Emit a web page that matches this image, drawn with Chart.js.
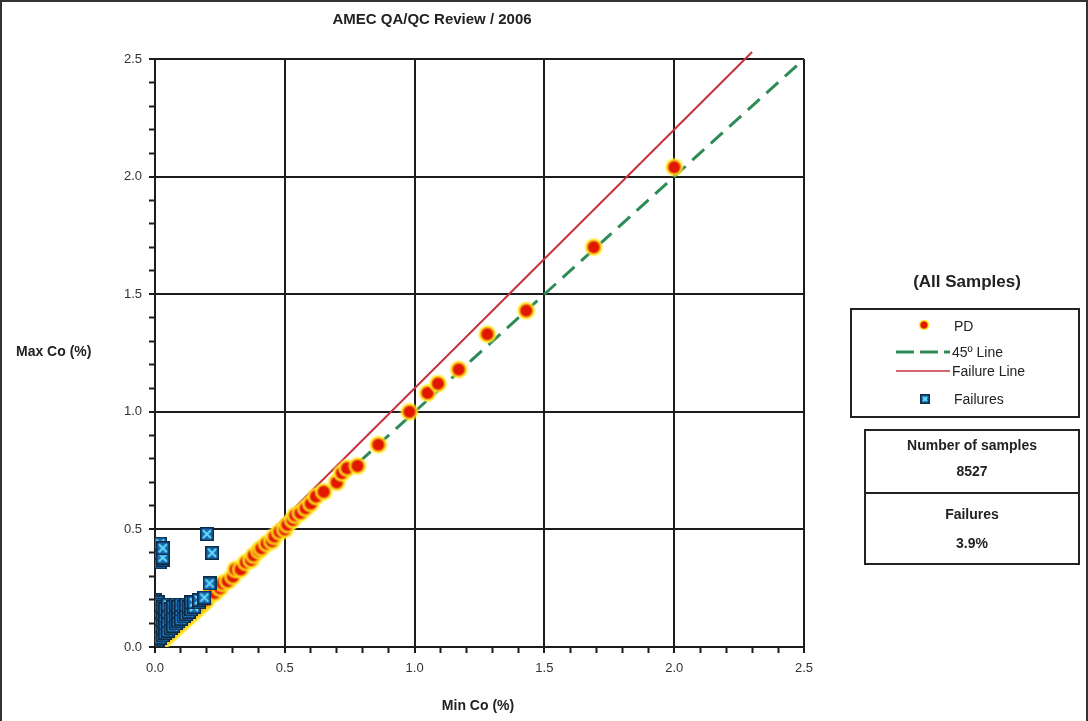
<!DOCTYPE html>
<html>
<head>
<meta charset="utf-8">
<script src="https://cdn.jsdelivr.net/npm/chart.js@4/dist/chart.umd.min.js"></script>
<style>
  html, body { margin: 0; padding: 0; background: #fff; }
  #wrap {
    position: relative; width: 1088px; height: 721px; box-sizing: border-box;
    border: 2px solid #333; border-bottom: none; overflow: hidden;
    font-family: "Liberation Sans", Arial, sans-serif; color: #222;
  }
  #chart { position: absolute; left: -2px; top: -2px; }
  .legTitle { position: absolute; left: 850px; width: 230px; top: 270px; text-align: center; font-weight: bold; font-size: 17px; }
  .legBox { position: absolute; left: 848px; top: 306px; width: 230px; height: 110px; border: 2px solid #222; box-sizing: border-box; }
  .legRow { position: absolute; left: 0; height: 18px; font-size: 14px; line-height: 18px; }
  .legRow span.t { position: absolute; white-space: nowrap; }
  .stats { position: absolute; left: 862px; top: 427px; width: 216px; height: 136px; border: 2px solid #222; box-sizing: border-box; }
  .stats .cell { position: absolute; left: 0; width: 100%; text-align: center; font-size: 14px; font-weight: bold; }
  .stats .sep { position: absolute; left: 0; width: 100%; top: 61px; border-top: 2px solid #222; }
</style>
</head>
<body>
<div id="wrap">
  <canvas id="chart" width="1088" height="721"></canvas>

  <div class="legTitle">(All Samples)</div>
  <div class="legBox">
    <canvas id="legIcons" width="80" height="110" style="position:absolute;left:40px;top:0"></canvas>
    <div class="legRow" style="top:7px"><span class="t" style="left:102px">PD</span></div>
    <div class="legRow" style="top:33px"><span class="t" style="left:100px">45º Line</span></div>
    <div class="legRow" style="top:52px"><span class="t" style="left:100px">Failure Line</span></div>
    <div class="legRow" style="top:80px"><span class="t" style="left:102px">Failures</span></div>
  </div>

  <div class="stats">
    <div class="cell" style="top:6px">Number of samples</div>
    <div class="cell" style="top:32px">8527</div>
    <div class="sep"></div>
    <div class="cell" style="top:75px">Failures</div>
    <div class="cell" style="top:104px">3.9%</div>
  </div>
</div>

<script>
// ── Data: duplicate pairs (min Co %, max Co %) ──
const pdMin = [0.01, 0.02, 0.03, 0.04, 0.05, 0.06, 0.07, 0.08, 0.09, 0.10,
               0.11, 0.12, 0.13, 0.14, 0.15, 0.16, 0.17, 0.18, 0.19, 0.20,
               0.21, 0.23, 0.25, 0.26, 0.28, 0.30, 0.31, 0.33, 0.35, 0.37,
               0.38, 0.40, 0.41, 0.43, 0.45, 0.46, 0.48, 0.50, 0.51, 0.53,
               0.54, 0.56, 0.58, 0.60, 0.62, 0.65, 0.70, 0.72, 0.74, 0.78,
               0.86, 0.98, 1.05, 1.09, 1.17, 1.28, 1.43, 1.69, 2.00];
const pdMax = [0.01, 0.02, 0.03, 0.04, 0.05, 0.06, 0.07, 0.08, 0.09, 0.10,
               0.11, 0.12, 0.13, 0.14, 0.15, 0.16, 0.17, 0.18, 0.19, 0.20,
               0.22, 0.23, 0.25, 0.27, 0.28, 0.30, 0.33, 0.33, 0.36, 0.37,
               0.39, 0.41, 0.42, 0.44, 0.45, 0.47, 0.49, 0.50, 0.52, 0.54,
               0.56, 0.57, 0.59, 0.61, 0.64, 0.66, 0.70, 0.74, 0.76, 0.77,
               0.86, 1.00, 1.08, 1.12, 1.18, 1.33, 1.43, 1.70, 2.04];

const failMin = [0.00, 0.00, 0.00, 0.00, 0.00, 0.00, 0.00,
                 0.01, 0.01, 0.01, 0.01, 0.01, 0.01,
                 0.02, 0.02, 0.02, 0.02, 0.02,
                 0.03, 0.03, 0.03, 0.03, 0.03,
                 0.04, 0.04, 0.04, 0.04,
                 0.05, 0.05, 0.05, 0.05,
                 0.06, 0.06, 0.06, 0.07, 0.07, 0.07,
                 0.08, 0.08, 0.08, 0.09, 0.09, 0.09,
                 0.10, 0.10, 0.10, 0.11, 0.11, 0.12, 0.12,
                 0.13, 0.13, 0.14, 0.14, 0.15, 0.15, 0.17, 0.17, 0.19,
                 0.02, 0.03, 0.02, 0.03, 0.02, 0.03,
                 0.20, 0.22, 0.21];
const failMax = [0.02, 0.05, 0.08, 0.11, 0.14, 0.17, 0.20,
                 0.03, 0.07, 0.10, 0.13, 0.16, 0.19,
                 0.04, 0.09, 0.12, 0.15, 0.18,
                 0.05, 0.08, 0.11, 0.14, 0.17,
                 0.06, 0.10, 0.13, 0.16,
                 0.07, 0.11, 0.15, 0.18,
                 0.08, 0.12, 0.16, 0.09, 0.13, 0.17,
                 0.10, 0.14, 0.18, 0.11, 0.15, 0.17,
                 0.12, 0.16, 0.18, 0.13, 0.17, 0.14, 0.18,
                 0.15, 0.17, 0.16, 0.19, 0.17, 0.19, 0.19, 0.20, 0.21,
                 0.36, 0.37, 0.40, 0.38, 0.44, 0.42,
                 0.48, 0.40, 0.27];

const lineX = [0, 2.5];
const lineY = [0, 2.5];
const failLineX = [0, 2.3];
const failLineY = [0, 2.53];

// ── Marker sprites ──
function pdSprite(size) {
  const c = document.createElement("canvas");
  c.width = c.height = size;
  const g = c.getContext("2d"), r = size / 2;
  const grad = g.createRadialGradient(r, r, 0, r, r, r);
  grad.addColorStop(0.00, "#e01800");
  grad.addColorStop(0.48, "#e01800");
  grad.addColorStop(0.60, "#f07a10");
  grad.addColorStop(0.74, "rgba(255,226,20,0.95)");
  grad.addColorStop(1.00, "rgba(255,240,80,0)");
  g.fillStyle = grad;
  g.beginPath(); g.arc(r, r, r, 0, Math.PI * 2); g.fill();
  return c;
}

function failSprite(size) {
  const c = document.createElement("canvas");
  c.width = c.height = size;
  const g = c.getContext("2d");
  g.fillStyle = "#0c2c46";
  g.fillRect(0, 0, size, size);
  g.fillStyle = "#1c68b2";
  g.fillRect(1.5, 1.5, size - 3, size - 3);
  g.strokeStyle = "#62dcf6";
  g.lineWidth = 2;
  g.beginPath();
  g.moveTo(3, 3); g.lineTo(size - 3, size - 3);
  g.moveTo(size - 3, 3); g.lineTo(3, size - 3);
  g.stroke();
  return c;
}

const pdImg = pdSprite(20);
const failImg = failSprite(14);

// legend icons
(function drawLegendIcons() {
  const g = document.getElementById("legIcons").getContext("2d");
  g.drawImage(pdSprite(12), 26, 9);
  g.strokeStyle = "#2e8b57"; g.lineWidth = 3; g.setLineDash([18, 6]);
  g.beginPath(); g.moveTo(4, 42); g.lineTo(58, 42); g.stroke();
  g.setLineDash([]);
  g.strokeStyle = "#c8323c"; g.lineWidth = 1.5;
  g.beginPath(); g.moveTo(4, 61); g.lineTo(58, 61); g.stroke();
  g.drawImage(failSprite(10), 28, 84);
})();

const toPts = (xs, ys) => xs.map((x, i) => ({ x, y: ys[i] }));
const isMajor = v => Math.abs(v * 2 - Math.round(v * 2)) < 1e-6;

// ── Fixed texts: title and axis names ──
const textPlugin = {
  id: "texts",
  afterDraw(chart) {
    const ctx = chart.ctx;
    ctx.save();
    ctx.fillStyle = "#222";
    ctx.textBaseline = "middle";
    ctx.font = "bold 15px 'Liberation Sans', Arial, sans-serif";
    ctx.textAlign = "center";
    ctx.fillText("AMEC QA/QC Review / 2006", 432, 20);
    ctx.font = "bold 14px 'Liberation Sans', Arial, sans-serif";
    ctx.fillText("Min Co (%)", 478, 706);
    ctx.textAlign = "left";
    ctx.fillText("Max Co (%)", 16, 352);
    ctx.restore();
  }
};

const axisFont = { family: "'Liberation Sans', Arial, sans-serif", size: 13 };

function axis(pad) {
  return {
    type: "linear", min: 0, max: 2.5,
    ticks: {
      stepSize: 0.1, color: "#333", font: axisFont, padding: pad, autoSkip: false,
      callback: v => isMajor(v) ? v.toFixed(1) : ""
    },
    grid: {
      color: ctx => isMajor(ctx.tick.value) ? "#1c1c1c" : "rgba(0,0,0,0)",
      lineWidth: ctx => isMajor(ctx.tick.value) ? 2 : 1,
      tickColor: "#1c1c1c", tickLength: 6, tickWidth: 2
    },
    border: { color: "#1c1c1c", width: 2 }
  };
}

const xAxis = axis(8);
xAxis.afterFit = s => { s.height = 74; };
const yAxis = axis(7);
yAxis.afterFit = s => { s.width = 155; };

new Chart(document.getElementById("chart"), {
  type: "scatter",
  data: {
    datasets: [
      {
        label: "Failures", data: toPts(failMin, failMax), order: 0,
        pointStyle: failImg, pointRadius: 7, pointHoverRadius: 7
      },
      {
        label: "PD", data: toPts(pdMin, pdMax), order: 1,
        pointStyle: pdImg, pointRadius: 10, pointHoverRadius: 10
      },
      {
        label: "45º Line", data: toPts(lineX, lineY), order: 3, showLine: true,
        borderColor: "#2e8b57", borderWidth: 3, borderDash: [16, 9], pointRadius: 0
      },
      {
        label: "Failure Line", data: toPts(failLineX, failLineY), order: 2, showLine: true,
        borderColor: "#c8323c", borderWidth: 2, pointRadius: 0,
        clip: { left: 0, top: 8, right: 0, bottom: 0 }
      }
    ]
  },
  options: {
    responsive: false, animation: false,
    layout: { padding: { left: 0, right: 284, top: 59, bottom: 0 } },
    plugins: { legend: { display: false }, tooltip: { enabled: false } },
    scales: { x: xAxis, y: yAxis }
  },
  plugins: [textPlugin]
});
</script>
</body>
</html>
